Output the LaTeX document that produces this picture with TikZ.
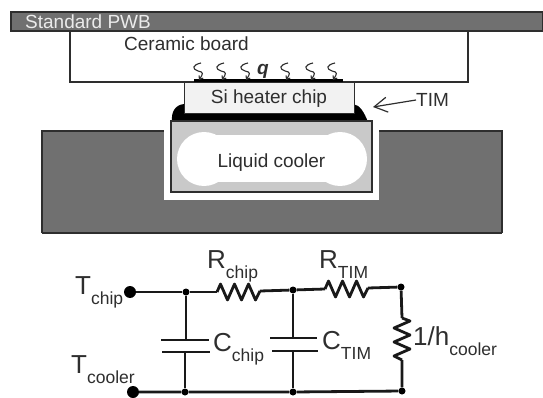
\documentclass[tikz,border=0pt]{standalone}
\usepackage{fontspec}
\setmainfont{Liberation Sans}
\usetikzlibrary{arrows.meta}
\definecolor{ink}{gray}{0.18}
\definecolor{slab}{gray}{0.44}
\definecolor{coolg}{gray}{0.79}
\newcommand{\lowsub}[2]{#1\raisebox{-0.42em}{\fontsize{17.5}{18}\selectfont #2}}
\tikzset{
 x=1pt,y=-1pt,
 outline/.style={draw=ink,line width=1.5pt},
 wire/.style={draw=black!90,line width=2.8pt,line join=round},
 plate/.style={draw=black!90,line width=2.8pt},
 term/.style={circle,fill=black,inner sep=0pt,minimum size=12pt},
 junct/.style={circle,fill=black,inner sep=0pt,minimum size=7pt},
 lab/.style={inner sep=0pt,text=ink,font=\fontsize{19}{22}\selectfont},
 clab/.style={inner sep=0pt,anchor=base west,text=ink,font=\fontsize{26}{29}\selectfont},
 heat/.style={draw=ink,line width=1.1pt,-{Straight Barb[length=3pt,width=5pt]}},
}
\newcommand{\squig}[2]{\draw[heat] (#1+3,#2-8) .. controls (#1-6,#2-6) and (#1-6,#2-2) .. (#1,#2) .. controls (#1+6,#2+1) and (#1+5,#2+3) .. (#1+1,#2+9);}
\begin{document}
\begin{tikzpicture}
\useasboundingbox (0,0) rectangle (543,398);
% substrate
\fill[slab] (42,131) rectangle (502,233);
\draw[outline] (42,233) -- (42,131) -- (502,131) -- (502,233);
\draw[outline,line width=1.8pt] (42,233) -- (502,233);
\fill[white] (164,125) rectangle (379,200);
% PWB and ceramic
\fill[white] (70,31) rectangle (468,82);
\draw[outline] (70,31) -- (70,82) -- (468,82) -- (468,31);
\draw[outline,fill=slab] (11,12) rectangle (543,31);
\node[lab,anchor=west,text=black!8] (pwb) at (25,22) {Standard PWB};
\node[lab] (ceramic) at (186.5,44) {Ceramic board};
% heat
\fill[black] (194,79.5) rectangle (343,83);
\foreach \hx in {198,221,245,285,310,332}{\squig{\hx}{71}}
\node[inner sep=0pt,font=\bfseries\itshape\fontsize{19}{19}\selectfont,text=ink] (q) at (263,71) {q};
% TIM
\fill[black] (172,122) .. controls (171,112) and (175,105) .. (184,104) -- (353,104) .. controls (360,105) and (364,112) .. (368,122) -- cycle;
% chip
\draw[draw=ink,line width=1pt,fill=black!5] (184,83) rectangle (354,114);
\node[lab] (chip) at (269,99) {Si heater chip};
% cooler
\draw[outline,fill=coolg] (171,121) rectangle (372,192);
\fill[white] (204,159) ellipse [x radius=27,y radius=27];
\fill[white] (340,159) ellipse [x radius=27,y radius=27];
\fill[white] (204,135) rectangle (340,182);
\node[lab] (liquid) at (271.5,163) {Liquid cooler};
% TIM label
\node[lab,anchor=west] (tim) at (416,100) {TIM};
\coordinate (timtip) at (373,107);
\draw[draw=ink,line width=1.2pt,-{Straight Barb[length=13pt,width=15pt]}] (tim.west) -- (timtip);
% circuit nodes
\node[term] (tc) at (130,292) {};
\node[term] (tb) at (133,392) {};
\node[junct] (j1) at (186,292) {};
\node[junct] (j2) at (293,290) {};
\node[junct] (j3) at (401,287) {};
\node[junct] (b1) at (185,392) {};
\node[junct] (b2) at (293,392) {};
\node[junct] (b3) at (402,391) {};
\coordinate (r1a) at (217,292);
\coordinate (r1b) at (260,291);
\coordinate (r2a) at (325,289);
\coordinate (r2b) at (368,288);
\coordinate (r3a) at (402,318);
\coordinate (r3b) at (402,360);
\coordinate (c1a) at (186,340);
\coordinate (c1b) at (185,352);
\coordinate (c2a) at (293,338);
\coordinate (c2b) at (293,351);
% wires
\draw[wire] (tc) -- (j1) -- (r1a);
\draw[wire] (r1b) -- (j2) -- (r2a);
\draw[wire] (r2b) -- (j3) -- (r3a);
\draw[wire] (r3b) -- (b3) -- (b2) -- (b1) -- (tb);
\draw[wire] (j1) -- (c1a);
\draw[wire] (c1b) -- (b1);
\draw[wire] (j2) -- (c2a);
\draw[wire] (c2b) -- (b2);
% resistors
\draw[wire] (r1a) -- ++(3.5,-8) -- ++(7,16) -- ++(7,-16) -- ++(7,16) -- ++(7,-16) -- ++(7,16) -- (r1b);
\draw[wire] (r2a) -- ++(3.5,-8) -- ++(7,16) -- ++(7,-16) -- ++(7,16) -- ++(7,-16) -- ++(7,16) -- (r2b);
\draw[wire] (r3a) -- ++(8,3) -- ++(-16,7) -- ++(16,7) -- ++(-16,7) -- ++(16,7) -- ++(-16,7) -- (r3b);
% capacitors
\draw[plate] (161,340) -- (209,340);
\draw[plate] (162,352) -- (210,352);
\draw[plate] (270,338) -- (317,338);
\draw[plate] (272,351) -- (318,351);
% labels
\node[clab] (ltc) at (75,294) {\lowsub{T}{chip}};
\node[clab] (ltb) at (71,373) {\lowsub{T}{cooler}};
\node[clab] (lr1) at (207,268) {\lowsub{R}{chip}};
\node[clab] (lr2) at (319,268) {\lowsub{R}{TIM}};
\node[clab] (lc1) at (213,351) {\lowsub{C}{chip}};
\node[clab] (lc2) at (322,349) {\lowsub{C}{TIM}};
\node[clab] (lh) at (413,345) {\lowsub{1/h}{cooler}};
\end{tikzpicture}
\end{document}
